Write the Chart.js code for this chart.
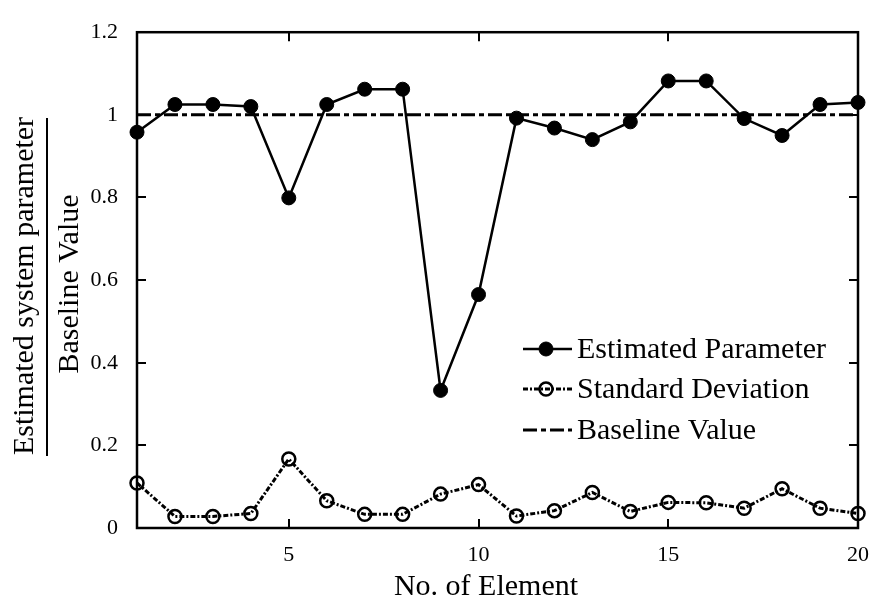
<!DOCTYPE html>
<html>
<head>
<meta charset="utf-8">
<script src="https://cdn.jsdelivr.net/npm/chart.js@4"></script>
<style>
  html, body { margin: 0; padding: 0; background: #fff; }
  #wrap { width: 883px; height: 602px; }
</style>
</head>
<body>
<div id="wrap"><canvas id="grafico" width="883" height="602"></canvas></div>
<script>
// Dados
const elementos = [1, 2, 3, 4, 5, 6, 7, 8, 9, 10, 11, 12, 13, 14, 15, 16, 17, 18, 19, 20];
const parametroEstimado = [0.958, 1.025, 1.025, 1.02, 0.799, 1.025, 1.062, 1.062, 0.333, 0.565,
                           0.992, 0.968, 0.94, 0.983, 1.082, 1.082, 0.991, 0.95, 1.025, 1.03];
const desvioPadrao = [0.109, 0.028, 0.028, 0.035, 0.167, 0.066, 0.033, 0.033, 0.082, 0.105,
                      0.029, 0.042, 0.086, 0.04, 0.062, 0.061, 0.048, 0.095, 0.048, 0.035];
const valorBase = [1, 1, 1, 1, 1, 1, 1, 1, 1, 1, 1, 1, 1, 1, 1, 1, 1, 1, 1, 1];
const ticksX = [5, 10, 15, 20];
const nomesSeries = ['Estimated Parameter', 'Standard Deviation', 'Baseline Value'];
const tituloX = 'No. of Element';
const tituloYNumerador = 'Estimated system parameter';
const tituloYDenominador = 'Baseline Value';

const fonte = '"Liberation Serif", "Times New Roman", serif';

function pontos(valores) {
    return elementos.map((x, i) => ({ x: x, y: valores[i] }));
}

// Plugin: moldura, ticks internos, títulos e legenda dentro do gráfico
const extras = {
    id: 'extras',
    afterDatasetsDraw(chart) {
        const ctx = chart.ctx;
        const a = chart.chartArea;
        const sx = chart.scales.x, sy = chart.scales.y;
        ctx.save();

        // ticks para dentro, nos quatro lados
        ctx.strokeStyle = '#000';
        ctx.lineWidth = 2;
        ctx.beginPath();
        sy.ticks.forEach(t => {
            const py = Math.round(sy.getPixelForValue(t.value));
            ctx.moveTo(a.left, py); ctx.lineTo(a.left + 9, py);
            ctx.moveTo(a.right, py); ctx.lineTo(a.right - 9, py);
        });
        ticksX.forEach(v => {
            const px = Math.round(sx.getPixelForValue(v));
            ctx.moveTo(px, a.bottom); ctx.lineTo(px, a.bottom - 9);
            ctx.moveTo(px, a.top); ctx.lineTo(px, a.top + 9);
        });
        ctx.stroke();

        // moldura
        ctx.lineWidth = 2.5;
        ctx.strokeRect(a.left, a.top, a.right - a.left, a.bottom - a.top);

        // título do eixo X
        ctx.fillStyle = '#000';
        ctx.font = '30px ' + fonte;
        ctx.textAlign = 'center';
        ctx.textBaseline = 'alphabetic';
        ctx.fillText(tituloX, 486, 595);

        // título do eixo Y em forma de fração
        ctx.save();
        ctx.translate(33, 286);
        ctx.rotate(-Math.PI / 2);
        ctx.fillText(tituloYNumerador, 0, 0);
        ctx.restore();
        ctx.save();
        ctx.translate(78, 284);
        ctx.rotate(-Math.PI / 2);
        ctx.fillText(tituloYDenominador, 0, 0);
        ctx.restore();
        ctx.lineWidth = 2;
        ctx.beginPath();
        ctx.moveTo(47, 118); ctx.lineTo(47, 456);
        ctx.stroke();

        // legenda
        const linhas = [349, 389, 430];
        chart.data.datasets.forEach((ds, i) => {
            const y = linhas[i];
            ctx.strokeStyle = '#000';
            ctx.lineWidth = ds.borderWidth;
            ctx.setLineDash(ds.borderDash || []);
            ctx.beginPath();
            ctx.moveTo(523, y); ctx.lineTo(572, y);
            ctx.stroke();
            ctx.setLineDash([]);
            if (ds.pointRadius > 0) {
                ctx.beginPath();
                ctx.arc(546, y, ds.pointRadius, 0, Math.PI * 2);
                if (ds.pointBackgroundColor !== 'transparent') {
                    ctx.fillStyle = ds.pointBackgroundColor;
                    ctx.fill();
                }
                ctx.lineWidth = ds.pointBorderWidth;
                ctx.stroke();
            }
            ctx.fillStyle = '#000';
            ctx.font = '30px ' + fonte;
            ctx.textAlign = 'left';
            ctx.textBaseline = 'middle';
            ctx.fillText(ds.label, 577, y + 1);
        });
        ctx.restore();
    }
};

new Chart(document.getElementById('grafico'), {
    type: 'line',
    data: {
        datasets: [
            {
                label: nomesSeries[0],
                data: pontos(parametroEstimado),
                borderColor: '#000',
                borderWidth: 2.5,
                pointRadius: 7,
                pointBackgroundColor: '#000',
                pointBorderColor: '#000',
                pointBorderWidth: 1,
                clip: false
            },
            {
                label: nomesSeries[1],
                data: pontos(desvioPadrao),
                borderColor: '#000',
                borderWidth: 3,
                borderDash: [5, 2, 2, 2],
                pointRadius: 6.5,
                pointBackgroundColor: 'transparent',
                pointBorderColor: '#000',
                pointBorderWidth: 2.5,
                clip: false
            },
            {
                label: nomesSeries[2],
                data: pontos(valorBase),
                borderColor: '#000',
                borderWidth: 3,
                borderDash: [14, 4, 5, 4],
                pointRadius: 0,
                clip: false
            }
        ]
    },
    options: {
        responsive: false,
        animation: false,
        events: [],
        layout: { padding: { top: 19, right: 19, left: 0, bottom: 0 } },
        plugins: {
            legend: { display: false },
            tooltip: { enabled: false }
        },
        scales: {
            x: {
                type: 'linear',
                min: 1,
                max: 20,
                afterFit: s => { s.height = 74; },
                afterBuildTicks: s => { s.ticks = ticksX.map(v => ({ value: v })); },
                grid: { display: false, drawTicks: false },
                border: { display: false },
                ticks: { color: '#000', padding: 14, font: { family: fonte, size: 22 } }
            },
            y: {
                min: 0,
                max: 1.2,
                afterFit: s => { s.width = 137; },
                grid: { display: false, drawTicks: false },
                border: { display: false },
                ticks: {
                    stepSize: 0.2,
                    color: '#000',
                    padding: 19,
                    font: { family: fonte, size: 22 },
                    callback: v => String(+v.toFixed(1))
                }
            }
        }
    },
    plugins: [extras]
});
</script>
</body>
</html>
